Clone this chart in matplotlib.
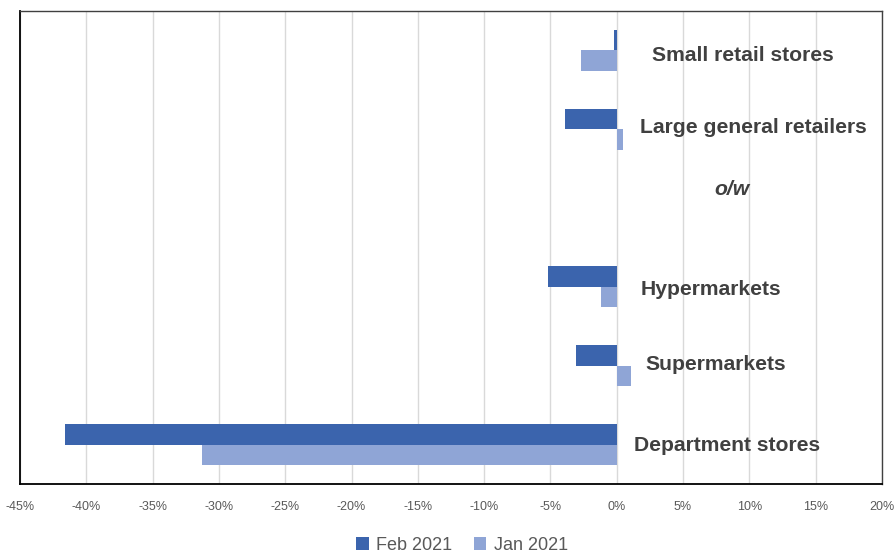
import matplotlib.pyplot as plt
import numpy as np

# data (percent change)
categories = ['Small retail stores', 'Large general retailers', 'o/w',
              'Hypermarkets', 'Supermarkets', 'Department stores']
feb_2021 = [-0.2, -3.9, np.nan, -5.2, -3.1, -41.6]
jan_2021 = [-2.7, 0.45, np.nan, -1.2, 1.1, -31.3]
series_names = ['Feb 2021', 'Jan 2021']
xticks = list(range(-45, 25, 5))

# label placement (data coords)
label_x = [9.5, 10.3, 8.7, 7.1, 7.5, 8.3]
label_y = [0.06, 0.98, 1.77, 3.03, 3.98, 5.01]

plt.rcParams['font.family'] = ['Liberation Sans', 'DejaVu Sans']

fig = plt.figure(figsize=(8.95, 5.52), dpi=100)
ax = fig.add_axes([20/895, 1 - 484/552, 862/895, 473/552])

y = np.arange(len(categories))
h = 0.26
c_feb = '#3b64ad'
c_jan = '#8fa5d6'
ax.barh(y - h/2, feb_2021, height=h, color=c_feb, zorder=3, label=series_names[0])
ax.barh(y + h/2, jan_2021, height=h, color=c_jan, zorder=3, label=series_names[1])

for i, name in enumerate(categories):
    style = 'italic' if name == 'o/w' else 'normal'
    ax.text(label_x[i], label_y[i], name, ha='center', va='center',
            fontsize=15.2, fontweight='bold', fontstyle=style, color='#404040', zorder=4)

ax.set_xlim(-45, 20)
ax.set_ylim(len(categories) - 0.5, -0.5)
ax.set_xticks(xticks)
ax.set_xticklabels([f'{t}%' for t in xticks], fontsize=9, color='#595959')
ax.set_yticks([])
ax.tick_params(axis='x', length=0, pad=12)
ax.grid(axis='x', color='#d9d9d9', lw=1, zorder=0)
for s in ['left', 'bottom']:
    ax.spines[s].set_color('black')
    ax.spines[s].set_linewidth(1.3)
for s in ['top', 'right']:
    ax.spines[s].set_color('#404040')
    ax.spines[s].set_linewidth(1.0)

fig.legend(loc='center', bbox_to_anchor=(462/895, 1 - 545/552), ncol=2, frameon=False,
           fontsize=13, labelcolor='#595959', handlelength=0.7, handleheight=0.7,
           handletextpad=0.4, columnspacing=1.2)

fig.savefig('out.png', dpi=100)
